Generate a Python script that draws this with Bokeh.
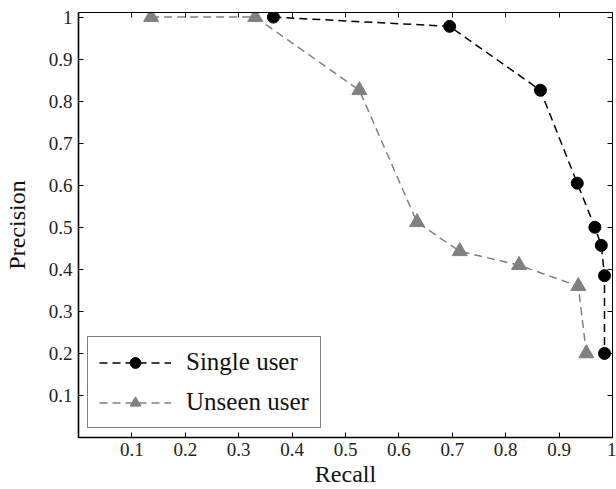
from bokeh.plotting import figure
from bokeh.models import LinearAxis, FixedTicker, Range1d, Legend
from bokeh.embed import file_html
from bokeh.resources import INLINE

# data
single_recall = [0.365, 0.695, 0.865, 0.934, 0.967, 0.979, 0.985, 0.985]
single_precision = [1.0, 0.978, 0.826, 0.605, 0.5, 0.457, 0.385, 0.2]
unseen_recall = [0.136, 0.331, 0.526, 0.634, 0.714, 0.825, 0.936, 0.951]
unseen_precision = [1.0, 1.0, 0.826, 0.512, 0.443, 0.41, 0.36, 0.2]

tick_values = [0.1, 0.2, 0.3, 0.4, 0.5, 0.6, 0.7, 0.8, 0.9, 1.0]
tick_labels = ["0.1", "0.2", "0.3", "0.4", "0.5", "0.6", "0.7", "0.8", "0.9", "1"]

FONT = "Liberation Serif"
GRAY = "#808080"

p = figure(width=616, height=489, output_backend="svg", toolbar_location=None,
           x_range=Range1d(0, 1), y_range=Range1d(0, 1.011),
           min_border_left=70, min_border_right=4, min_border_top=12, min_border_bottom=0)
p.grid.visible = False
p.outline_line_color = "black"
p.outline_line_width = 1
p.background_fill_color = "white"
p.border_fill_color = "white"

overrides = {v: t for v, t in zip(tick_values, tick_labels)}

for ax in (p.xaxis[0], p.yaxis[0]):
    ax.ticker = FixedTicker(ticks=tick_values)
    ax.major_label_overrides = overrides
    ax.major_tick_in = 5
    ax.major_tick_out = 0
    ax.minor_tick_line_color = None
    ax.axis_line_width = 1.6
    ax.axis_line_color = "black"
    ax.major_tick_line_color = "black"
    ax.major_label_text_font = FONT
    ax.major_label_text_font_size = "19px"
    ax.major_label_text_color = "#222222"
    ax.axis_label_text_font = FONT
    ax.axis_label_text_font_size = "24px"
    ax.axis_label_text_font_style = "normal"
    ax.axis_label_text_color = "#111111"

p.xaxis.axis_label = "Recall"
p.yaxis.axis_label = "Precision"
p.xaxis.major_label_standoff = 5
p.xaxis.axis_label_standoff = 2
p.yaxis.major_label_standoff = 6
p.yaxis.axis_label_standoff = 16

for side in ("above", "right"):
    ax = LinearAxis(ticker=FixedTicker(ticks=tick_values),
                    major_tick_in=5, major_tick_out=0,
                    minor_tick_line_color=None,
                    major_label_text_color=None,
                    major_label_text_font_size="1px",
                    major_label_standoff=0,
                    axis_label_standoff=0,
                    axis_line_color="black", axis_line_width=1)
    p.add_layout(ax, side)

l1 = p.line(single_recall, single_precision, line_color="black", line_width=1.5, line_dash="8 5")
s1 = p.scatter(single_recall, single_precision, marker="circle", size=12,
               fill_color="black", line_color="black")
l2 = p.line(unseen_recall, unseen_precision, line_color=GRAY, line_width=1.5, line_dash="8 5")
s2 = p.scatter(unseen_recall, unseen_precision, marker="triangle", size=15,
               fill_color=GRAY, line_color=GRAY)

legend = Legend(items=[("Single user", [l1, s1]), ("Unseen user", [l2, s2])],
                location="bottom_left", margin=9, padding=11,
                glyph_width=72, glyph_height=27, label_height=27, spacing=12,
                label_standoff=15,
                label_text_font=FONT, label_text_font_size="25px",
                label_text_color="#111111",
                border_line_color="black", border_line_width=1.2,
                background_fill_alpha=1)
p.add_layout(legend)

open("out.html", "w").write(file_html(p, INLINE))
